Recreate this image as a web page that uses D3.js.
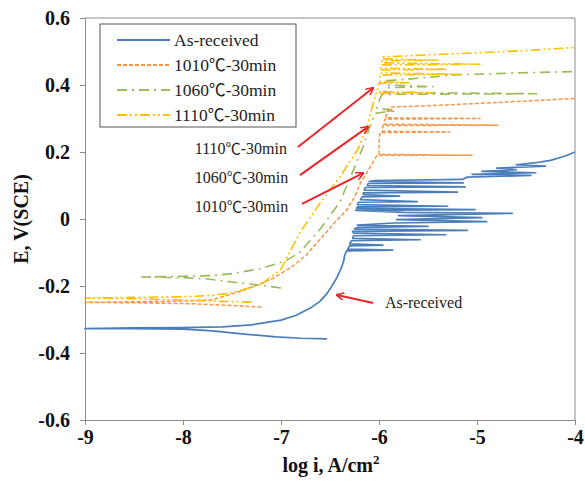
<!DOCTYPE html>
<html><head><meta charset="utf-8">
<script src="https://cdn.jsdelivr.net/npm/d3@7/dist/d3.min.js"></script>
<style>body{margin:0;background:#fff}svg{display:block}</style>
</head><body><svg id="c" width="585" height="485"></svg>
<script>
const xTicks=[-9,-8,-7,-6,-5,-4];
const yTicks=[-0.6,-0.4,-0.2,0,0.2,0.4,0.6];
const seriesNames=["As-received","1010℃-30min","1060℃-30min","1110℃-30min"];
const blue=[[-6.53,-0.358],[-6.8,-0.356],[-7.05,-0.352],[-7.4,-0.343],[-7.7,-0.334],[-8.0,-0.329],[-8.5,-0.327],[-9.0,-0.327],
[-8.5,-0.325],[-8.0,-0.324],[-7.6,-0.322],[-7.3,-0.316],[-7.0,-0.302],[-6.85,-0.288],[-6.7,-0.266],[-6.6,-0.245],[-6.53,-0.222],[-6.48,-0.2],[-6.43,-0.175],[-6.39,-0.15],[-6.36,-0.125],[-6.35,-0.108],
[-6.33,-0.095],[-5.86,-0.093],[-6.32,-0.09],[-6.30,-0.08],[-5.96,-0.078],[-6.30,-0.074],[-6.28,-0.065],[-5.58,-0.062],[-6.27,-0.058],
[-6.26,-0.05],[-5.32,-0.047],[-6.26,-0.042],[-6.27,-0.037],[-5.10,-0.034],[-6.25,-0.03],[-6.22,-0.025],[-5.50,-0.022],[-6.22,-0.018],
[-5.85,-0.012],[-4.90,-0.008],[-5.82,-0.002],[-4.95,0.004],[-5.80,0.01],[-4.64,0.017],[-5.75,0.02],
[-6.24,0.026],[-5.02,0.028],[-6.23,0.032],[-6.22,0.036],[-5.30,0.038],[-6.22,0.043],[-6.21,0.05],[-5.61,0.052],[-6.19,0.058],
[-6.17,0.066],[-5.79,0.068],[-6.16,0.073],[-6.16,0.078],[-5.20,0.08],[-6.15,0.086],[-6.14,0.094],[-5.12,0.096],[-6.12,0.1],
[-6.11,0.106],[-5.14,0.108],[-6.10,0.112],[-6.05,0.115],[-5.15,0.118],
[-5.10,0.125],[-4.45,0.13],[-5.05,0.133],[-4.40,0.138],[-4.95,0.142],[-4.60,0.147],[-4.80,0.152],[-4.30,0.158],[-4.60,0.162],[-4.40,0.168],[-4.25,0.175],[-4.10,0.188],[-4.0,0.2]];
const orange=[[-7.2,-0.263],[-7.5,-0.258],[-7.9,-0.253],[-8.5,-0.25],[-9,-0.249],
[-8.5,-0.247],[-8.0,-0.245],[-7.7,-0.241],[-7.4,-0.215],[-7.1,-0.18],[-6.9,-0.145],[-6.75,-0.11],[-6.6,-0.06],[-6.45,-0.01],[-6.33,0.027],[-6.25,0.065],[-6.19,0.107],[-6.09,0.155],[-6.02,0.19],
[-5.05,0.19],[-6.0,0.193],[-6.0,0.227],[-5.99,0.258],[-5.28,0.26],[-5.97,0.262],[-5.96,0.279],[-4.79,0.28],[-5.95,0.283],
[-5.94,0.298],[-4.97,0.3],[-5.93,0.302],[-5.92,0.322],[-5.85,0.322],[-5.91,0.325],[-5.89,0.334],[-5.5,0.338],[-5.0,0.345],[-4.5,0.352],[-4.0,0.36]];
const green=[[-7.0,-0.206],[-7.2,-0.198],[-7.5,-0.188],[-7.75,-0.179],[-8.0,-0.175],[-8.42,-0.173],
[-8.0,-0.171],[-7.7,-0.169],[-7.5,-0.163],[-7.2,-0.148],[-6.95,-0.125],[-6.81,-0.1],[-6.6,-0.03],[-6.4,0.05],[-6.27,0.14],[-6.17,0.21],[-6.1,0.27],[-6.04,0.315],
[-5.84,0.325],[-6.02,0.33],[-5.99,0.36],[-5.97,0.372],[-4.39,0.374],[-5.95,0.378],[-5.93,0.392],[-5.45,0.395],[-5.92,0.4],[-5.92,0.413],[-5.8,0.415],[-5.6,0.42],[-5.24,0.43],[-4.6,0.436],[-4.0,0.44]];
const yellow=[[-7.3,-0.248],[-7.6,-0.246],[-8.0,-0.242],[-8.5,-0.238],[-9,-0.236],
[-8.5,-0.234],[-8.0,-0.232],[-7.7,-0.228],[-7.5,-0.22],[-7.2,-0.195],[-7.0,-0.15],[-6.81,-0.042],[-6.6,0.048],[-6.4,0.125],[-6.22,0.206],[-6.12,0.275],[-6.06,0.346],[-6.03,0.375],[-5.45,0.377],[-6.02,0.38],
[-6.0,0.405],[-5.7,0.407],[-5.99,0.41],[-5.99,0.43],[-5.17,0.432],[-5.99,0.436],[-5.98,0.445],[-5.3,0.447],[-5.98,0.45],
[-5.98,0.46],[-4.97,0.462],[-5.97,0.466],[-5.97,0.472],[-5.4,0.474],[-5.97,0.478],[-5.96,0.484],[-5.5,0.49],[-5.0,0.496],[-4.5,0.503],[-4.0,0.512]];
// annotations: [label, textX, textY, arrowFromX, arrowFromY, arrowToX, arrowToY] in data units
const annotations=[["1110℃-30min",-7.88,0.194,-6.827,0.215,-6.061,0.391],
["1060℃-30min",-7.88,0.107,-6.806,0.131,-6.112,0.275],
["1010℃-30min",-7.88,0.021,-6.786,0.045,-6.163,0.137],
["As-received",-5.94,-0.266,-6.061,-0.251,-6.429,-0.227]];

const svg=d3.select("#c");
const x=d3.scaleLinear().domain([-9,-4]).range([85,575]);
const y=d3.scaleLinear().domain([-0.6,0.6]).range([420,18]);
const font="'Liberation Serif','Times New Roman',serif";
const cjk="'Noto Sans CJK SC',sans-serif";
const axisCol="#8c8c8c";
const styles=[
 {c:"#4a7ebb",d:null,w:1.7},
 {c:"#f79646",d:"4,2",w:1.5},
 {c:"#9bbb59",d:"10,5,2,5",w:1.6},
 {c:"#ffc000",d:"10,3,2,3,2,3",w:1.6}];
const data=[blue,orange,green,yellow];
const line=d3.line().x(d=>x(d[0])).y(d=>y(d[1]));

// frame
svg.append("line").attr("x1",x(-9)).attr("x2",x(-4)).attr("y1",y(0.6)).attr("y2",y(0.6)).attr("stroke",axisCol);
svg.append("line").attr("x1",x(-4)).attr("x2",x(-4)).attr("y1",y(0.6)).attr("y2",y(-0.6)).attr("stroke",axisCol);

const gx=svg.append("g").attr("transform",`translate(0,${y(-0.6)})`)
 .call(d3.axisBottom(x).tickValues(xTicks).tickSize(5).tickPadding(5).tickFormat(d3.format("d")));
const gy=svg.append("g").attr("transform",`translate(${x(-9)},0)`)
 .call(d3.axisLeft(y).tickValues(yTicks).tickSize(5).tickPadding(10).tickFormat(d=>d===0?"0":d3.format(".1f")(d)));
[gx,gy].forEach(g=>{g.selectAll("path,line").attr("stroke",axisCol);
 g.selectAll("text").attr("font-family",font).attr("font-weight","bold").attr("font-size",20).attr("fill","#111");});
gx.selectAll("text").text(d=>String(d).replace("\u2212","-"));
gy.selectAll("text").text(d=>d===0?"0":d3.format(".1f")(d).replace("\u2212","-"));

// curves
data.forEach((arr,i)=>{
 svg.append("path").attr("d",line(arr)).attr("fill","none").attr("stroke",styles[i].c)
  .attr("stroke-width",styles[i].w).attr("stroke-dasharray",styles[i].d).attr("stroke-linejoin","round");
});

// axis titles
svg.append("text").attr("x",331).attr("y",472).attr("text-anchor","middle").attr("font-family",font)
 .attr("font-weight","bold").attr("font-size",20).attr("fill","#111")
 .html('log i, A/cm<tspan dy="-8" font-size="13">2</tspan>');
svg.append("text").attr("transform","translate(28,219) rotate(-90)").attr("text-anchor","middle")
 .attr("font-family",font).attr("font-weight","bold").attr("font-size",20).attr("fill","#111").text("E, V(SCE)");

function setLabel(sel,txt){
 const parts=txt.split("℃");
 sel.text(null);
 sel.append("tspan").text(parts[0]);
 if(parts.length>1){sel.append("tspan").attr("font-family",cjk).attr("font-size","0.95em").text("℃");sel.append("tspan").text(parts[1]);}
}

// legend
const lg=svg.append("g");
lg.append("rect").attr("x",100).attr("y",24).attr("width",196).attr("height",103).attr("fill","#fff").attr("stroke","#555").attr("stroke-width",1);
const ly=[40,65,90,115];
seriesNames.forEach((n,i)=>{
 lg.append("line").attr("x1",117).attr("x2",170).attr("y1",ly[i]).attr("y2",ly[i]).attr("stroke",styles[i].c)
  .attr("stroke-width",2).attr("stroke-dasharray",styles[i].d);
 const t=lg.append("text").attr("x",174).attr("y",ly[i]+6).attr("font-family",font).attr("font-size",17.5).attr("fill","#222");
 setLabel(t,n);
});

// annotations
const red="#e8262b";
svg.append("defs").append("marker").attr("id","ah").attr("viewBox","0 0 10 10").attr("refX",9).attr("refY",5)
 .attr("markerWidth",4).attr("markerHeight",4).attr("orient","auto").attr("markerUnits","strokeWidth")
 .append("path").attr("d","M0,0 L10,5 L0,10").attr("fill","none").attr("stroke",red).attr("stroke-width",2);
annotations.forEach(a=>{
 const t=svg.append("text").attr("x",x(a[1])).attr("y",y(a[2])).attr("font-family",font).attr("font-size",16).attr("fill","#222");
 setLabel(t,a[0]);
 svg.append("line").attr("x1",x(a[3])).attr("y1",y(a[4])).attr("x2",x(a[5])).attr("y2",y(a[6]))
  .attr("stroke",red).attr("stroke-width",2).attr("marker-end","url(#ah)");
});
</script></body></html>
